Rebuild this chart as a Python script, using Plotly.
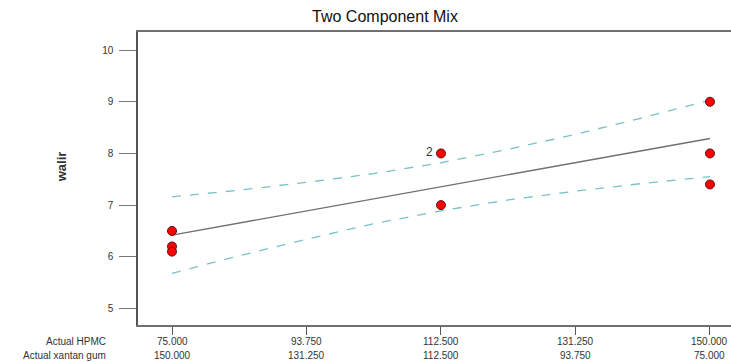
import plotly.graph_objects as go

# Design points
hpmc = [75, 75, 75, 112.5, 112.5, 150, 150, 150]
walir = [6.5, 6.2, 6.1, 8.0, 7.0, 9.0, 8.0, 7.4]

# Fitted line and confidence band
band_x = [75, 84.375, 93.75, 103.125, 112.5, 121.875, 131.25, 140.625, 150]
fit_y = [6.42, 6.655, 6.889, 7.122, 7.356, 7.589, 7.822, 8.055, 8.289]
upper_y = [7.16, 7.29, 7.44, 7.61, 7.82, 8.08, 8.37, 8.69, 9.03]
lower_y = [5.68, 6.02, 6.34, 6.64, 6.89, 7.10, 7.27, 7.42, 7.55]

# Axis ticks
tick_hpmc = [75, 93.75, 112.5, 131.25, 150]
tick_hpmc_text = ["75.000", "93.750", "112.500", "131.250", "150.000"]
tick_xg_text = ["150.000", "131.250", "112.500", "93.750", "75.000"]
y_ticks = [5, 6, 7, 8, 9, 10]

font = "Liberation Sans, Arial, sans-serif"

fig = go.Figure()
fig.add_trace(go.Scatter(x=band_x, y=upper_y, mode="lines",
                         line=dict(color="#79c3c7", width=1.3, dash="dash"),
                         hoverinfo="skip"))
fig.add_trace(go.Scatter(x=band_x, y=lower_y, mode="lines",
                         line=dict(color="#79c3c7", width=1.3, dash="dash"),
                         hoverinfo="skip"))
fig.add_trace(go.Scatter(x=band_x, y=fit_y, mode="lines",
                         line=dict(color="#707070", width=1.3)))
fig.add_trace(go.Scatter(x=hpmc, y=walir, mode="markers",
                         marker=dict(color="#ff0000", size=9,
                                     line=dict(color="#5a1010", width=1))))

# "2" label for the replicated point
fig.add_annotation(x=hpmc[3], y=walir[3], text="2", showarrow=False,
                   xanchor="right", xshift=-6, yshift=1,
                   font=dict(family=font, size=12, color="#333333"))

# two rows of x tick labels
for xv, t1, t2 in zip(tick_hpmc, tick_hpmc_text, tick_xg_text):
    fig.add_annotation(x=xv, xref="x", y=-0.057, yref="paper", text=t1,
                       showarrow=False, yanchor="middle",
                       font=dict(family=font, size=10, color="#333333"))
    fig.add_annotation(x=xv, xref="x", y=-0.103, yref="paper", text=t2,
                       showarrow=False, yanchor="middle",
                       font=dict(family=font, size=10, color="#333333"))
fig.add_annotation(x=-0.051, xref="paper", y=-0.057, yref="paper",
                   text="Actual HPMC", showarrow=False, xanchor="right",
                   yanchor="middle", font=dict(family=font, size=10, color="#333333"))
fig.add_annotation(x=-0.051, xref="paper", y=-0.103, yref="paper",
                   text="Actual xantan gum", showarrow=False, xanchor="right",
                   yanchor="middle", font=dict(family=font, size=10, color="#333333"))

# y-axis title
fig.add_annotation(x=-0.129, xref="paper", y=0.54, yref="paper",
                   text="<b>walir</b>", showarrow=False, textangle=-90,
                   xanchor="center", yanchor="middle",
                   font=dict(family="Liberation Sans Narrow, Arial Narrow, sans-serif",
                             size=13, color="#333333"))

fig.update_layout(
    width=731, height=362,
    margin=dict(l=138, r=0, t=32, b=37),
    paper_bgcolor="white", plot_bgcolor="white",
    showlegend=False,
    title=dict(text="Two Component Mix", x=0.4165, xref="paper", xanchor="center",
               y=0.955, yanchor="middle",
               font=dict(family=font, size=16, color="#111111")),
    xaxis=dict(range=[70.26, 152.93], tickvals=tick_hpmc, showticklabels=False,
               ticks="outside", ticklen=8, tickcolor="#555555", tickwidth=1,
               showgrid=False, zeroline=False, showline=True, linecolor="#707070",
               linewidth=1.5, mirror=True),
    yaxis=dict(range=[4.68, 10.35], tickvals=y_ticks,
               ticks="outside", ticklen=17, tickcolor="#777777", tickwidth=1,
               ticklabelstandoff=4,
               tickfont=dict(family=font, size=10, color="#333333"),
               showgrid=False, zeroline=False, showline=True, linecolor="#555555",
               linewidth=1.5, mirror=False),
)

fig.write_html("out.html")
